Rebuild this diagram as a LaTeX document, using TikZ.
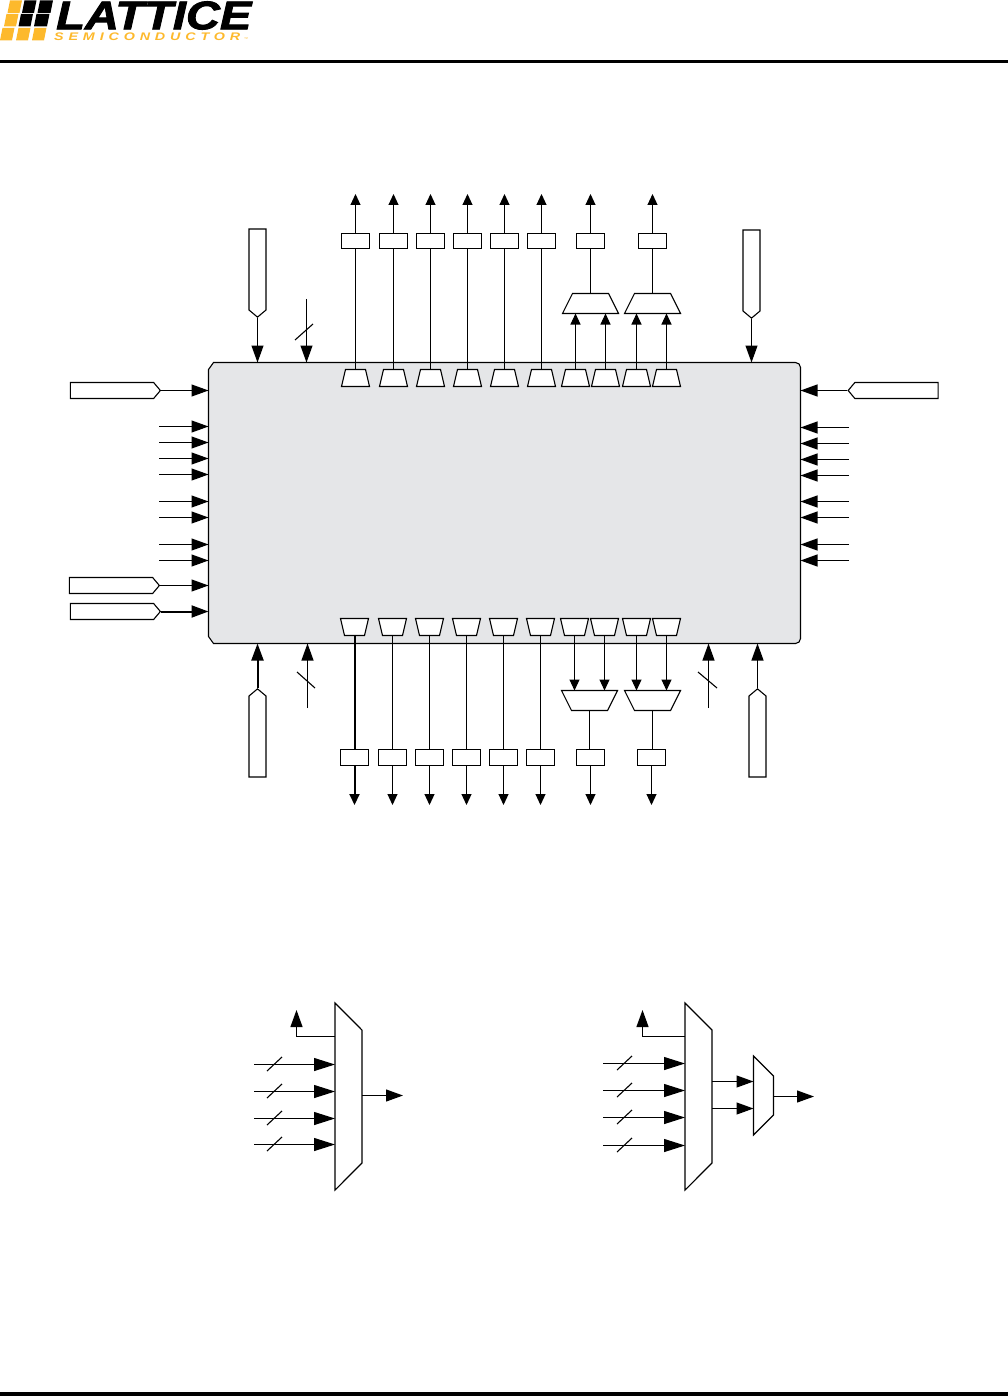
\documentclass[tikz,border=0pt]{standalone}
\usepackage{fontspec}
\usepackage{tikz}
\usetikzlibrary{arrows.meta,positioning,shapes.geometric,shapes.symbols}
\newfontfamily\logofont[FakeBold=2]{Liberation Sans}
\newfontfamily\subfont[LetterSpace=34]{Liberation Sans}
\definecolor{chipgray}{HTML}{E5E6E8}
\definecolor{logogold}{HTML}{FDB92C}
\tikzset{
  padup/.style={trapezium,draw,fill=white,line width=1.1pt,inner sep=0pt,outer sep=0pt,text width=2pt,text height=2pt,text depth=0pt,
    trapezium stretches=true,trapezium left angle=78.7,trapezium right angle=78.7,minimum width=28pt,minimum height=17pt},
  paddown/.style={padup,shape border rotate=180},
  muxup/.style={padup,trapezium left angle=74.5,trapezium right angle=74.5,minimum width=56pt,minimum height=20pt},
  muxdown/.style={muxup,shape border rotate=180},
  muxbig/.style={padup,rotate=-90,trapezium left angle=78.5,trapezium right angle=78.5,minimum width=187pt,minimum height=27pt},
  muxsmall/.style={padup,rotate=-90,trapezium left angle=62.8,trapezium right angle=62.8,minimum width=79pt,minimum height=20pt},
  reg/.style={rectangle,draw,fill=white,line width=1.1pt,inner sep=0pt,outer sep=0pt,minimum width=28pt,minimum height=15pt},
  regb/.style={reg,minimum height=16pt},
  tagh/.style={signal,signal from=nowhere,draw,fill=white,line width=1.1pt,inner sep=0pt,
    signal pointer angle=100,minimum height=16pt,minimum width=90pt},
  tagright/.style={tagh,signal to=east},
  tagleft/.style={tagh,signal to=west},
  tagdown/.style={signal,signal from=nowhere,signal to=south,draw,fill=white,line width=1.1pt,inner sep=0pt,
    signal pointer angle=100,minimum width=17pt,minimum height=81pt},
  tagup/.style={tagdown,signal to=north},
  wire/.style={line width=1.1pt},
  heavy/.style={line width=2pt},
  big/.style={wire,-{Triangle[length=17pt,width=12pt]}},
  small/.style={wire,-{Triangle[length=11pt,width=10pt]}},
  huge/.style={wire,-{Triangle[length=21pt,width=13pt]}},
}
\newcommand{\logotile}[4]{\fill[#4] (#1,#2) -- ++(#3,0) -- ++(-2.5,12.5) -- ++(-#3,0) -- cycle;}
\begin{document}
\begin{tikzpicture}[x=1pt,y=-1pt]
  \useasboundingbox (0,0) rectangle (1008,1396);

  % header and footer
  \logotile{10}{0.5}{12}{logogold}
  \logotile{24.5}{0.5}{12}{black}
  \logotile{40}{0.5}{13}{black}
  \logotile{6.5}{14}{12}{logogold}
  \logotile{21}{14}{12}{black}
  \logotile{36.5}{14}{13}{black}
  \logotile{2.5}{28}{12}{logogold}
  \logotile{18.5}{28}{12}{logogold}
  \logotile{34.5}{28}{12}{logogold}
  \node[inner sep=0pt,anchor=west] (logo) at (56,15.5)
    {\scalebox{1.176}[1]{\fontsize{40}{40}\logofont\bfseries\itshape LATTICE}};
  \node[inner sep=0pt,anchor=west,text=logogold] (logosub) at (54,37)
    {\scalebox{1.3}[1]{\fontsize{11}{11}\subfont\bfseries\itshape SEMICONDUCTOR}};
  \node[inner sep=0pt,anchor=west,text=logogold] (logotm) at (244,39.5) {\fontsize{4}{4}\subfont ™};
  \fill (0,60) rectangle (1008,63.5);
  \fill (0,1392) rectangle (1008,1396);

  % chip
  \node[minimum width=592pt,minimum height=281pt,inner sep=0pt,outer sep=0pt] (chip) at (504.5,503) {};
  \draw[wire,fill=chipgray] ([xshift=5pt]chip.north west) [rounded corners=5pt] -- (chip.north east)
    -- (chip.south east) [sharp corners] -- ([xshift=5pt]chip.south west)
    -- ([yshift=7pt]chip.south west) -- ([yshift=-7pt]chip.north west) -- cycle;

  % pads along the top
  \node[padup] (pt1) at (355.5,378) {};
  \node[padup] (pt2) at (393.5,378) {};
  \node[padup] (pt3) at (430.5,378) {};
  \node[padup] (pt4) at (467.5,378) {};
  \node[padup] (pt5) at (504.5,378) {};
  \node[padup] (pt6) at (541.5,378) {};
  \node[padup] (pt7) at (575.5,378) {};
  \node[padup] (pt8) at (605.5,378) {};
  \node[padup] (pt9) at (636.5,378) {};
  \node[padup] (pt10) at (666.5,378) {};
  \node[muxup] (mt1) at (590.5,303.5) {};
  \node[muxup] (mt2) at (652.5,303.5) {};
  \node[reg] (rt1) [above=121pt of pt1] {};
  \node[reg] (rt2) [above=121pt of pt2] {};
  \node[reg] (rt3) [above=121pt of pt3] {};
  \node[reg] (rt4) [above=121pt of pt4] {};
  \node[reg] (rt5) [above=121pt of pt5] {};
  \node[reg] (rt6) [above=121pt of pt6] {};
  \node[reg] (rt7) [above=45pt of mt1] {};
  \node[reg] (rt8) [above=45pt of mt2] {};
  \coordinate (ot1) at (355.5,194);

  % pads along the bottom
  \node[paddown] (pb1) at (354.5,627) {};
  \node[paddown] (pb2) at (392.5,627) {};
  \node[paddown] (pb3) at (429.5,627) {};
  \node[paddown] (pb4) at (466.5,627) {};
  \node[paddown] (pb5) at (503.5,627) {};
  \node[paddown] (pb6) at (540.5,627) {};
  \node[paddown] (pb7) at (574.5,627) {};
  \node[paddown] (pb8) at (604.5,627) {};
  \node[paddown] (pb9) at (636.5,627) {};
  \node[paddown] (pb10) at (666.5,627) {};
  \node[muxdown] (mb1) at (589.5,700.5) {};
  \node[muxdown] (mb2) at (652.5,700.5) {};
  \node[regb] (rb1) [below=114pt of pb1] {};
  \node[regb] (rb2) [below=114pt of pb2] {};
  \node[regb] (rb3) [below=114pt of pb3] {};
  \node[regb] (rb4) [below=114pt of pb4] {};
  \node[regb] (rb5) [below=114pt of pb5] {};
  \node[regb] (rb6) [below=114pt of pb6] {};
  \node[regb] (rb7) [below=39pt of mb1,xshift=1pt] {};
  \node[regb] (rb8) [below=39pt of mb2,xshift=-1pt] {};
  \coordinate (ob1) at (354.5,805);

  % tags
  \node[tagdown] (tt1) at (257.5,269.5) {};
  \node[tagdown] (tt2) at (751.5,270.5) {};
  \node[tagright] (tl1) at (112,390.5) {};
  \node[tagright] (tl2) at (111,585.5) {};
  \node[tagright] (tl3) at (112,611.5) {};
  \node[tagleft] (tr1) at (896.5,390.5) {};
  \node[tagup] (tb1) at (257.5,736.5) {};
  \node[tagup] (tb2) at (757.5,736.5) {};

  % side inputs
  \coordinate (il1) at (159,426.5);
  \coordinate (il2) at (159,442.5);
  \coordinate (il3) at (159,458.5);
  \coordinate (il4) at (159,474.5);
  \coordinate (il5) at (159,501.5);
  \coordinate (il6) at (159,517.5);
  \coordinate (il7) at (159,544.5);
  \coordinate (il8) at (159,560.5);
  \coordinate (ir1) at (849,427.5);
  \coordinate (ir2) at (849,443.5);
  \coordinate (ir3) at (849,459.5);
  \coordinate (ir4) at (849,475.5);
  \coordinate (ir5) at (849,501.5);
  \coordinate (ir6) at (849,517.5);
  \coordinate (ir7) at (849,544.5);
  \coordinate (ir8) at (849,560.5);

  % busses
  \coordinate (bt) at (306.5,299);
  \coordinate (bl) at (307.5,708);
  \coordinate (br) at (708.5,708);

  \draw[big] (tt1.south) -- (tt1.south |- chip.north);
  \draw[big] (tt2.south) -- (tt2.south |- chip.north);
  \draw[big] (bt) -- (bt |- chip.north);
  \draw[big] (bl) -- (bl |- chip.south);
  \draw[big] (br) -- (br |- chip.south);
  \draw[big] (tb2.north) -- (tb2.north |- chip.south);
  \draw[big,heavy] (tb1.north) -- (tb1.north |- chip.south);
  \draw[wire] (295,340) -- (313,324);
  \draw[wire] (297,672) -- (315,688);
  \draw[wire] (698,672) -- (717,688);

  \draw[big] (tl1.east) -- (tl1.east -| chip.west);
  \draw[big] (tl2.east) -- (tl2.east -| chip.west);
  \draw[big,heavy] (tl3.east) -- (tl3.east -| chip.west);
  \draw[big] (tr1.west) -- (tr1.west -| chip.east);
  \draw[big] (il1) -- (il1 -| chip.west);
  \draw[big] (il2) -- (il2 -| chip.west);
  \draw[big] (il3) -- (il3 -| chip.west);
  \draw[big] (il4) -- (il4 -| chip.west);
  \draw[big] (il5) -- (il5 -| chip.west);
  \draw[big] (il6) -- (il6 -| chip.west);
  \draw[big] (il7) -- (il7 -| chip.west);
  \draw[big] (il8) -- (il8 -| chip.west);
  \draw[big] (ir1) -- (ir1 -| chip.east);
  \draw[big] (ir2) -- (ir2 -| chip.east);
  \draw[big] (ir3) -- (ir3 -| chip.east);
  \draw[big] (ir4) -- (ir4 -| chip.east);
  \draw[big] (ir5) -- (ir5 -| chip.east);
  \draw[big] (ir6) -- (ir6 -| chip.east);
  \draw[big] (ir7) -- (ir7 -| chip.east);
  \draw[big] (ir8) -- (ir8 -| chip.east);

  % top wires
  \path[wire]
    (pt1.north) edge (rt1.south)
    (pt2.north) edge (rt2.south)
    (pt3.north) edge (rt3.south)
    (pt4.north) edge (rt4.south)
    (pt5.north) edge (rt5.south)
    (pt6.north) edge (rt6.south)
    (mt1.north) edge (rt7.south)
    (mt2.north) edge (rt8.south);
  \path[small]
    (rt1.north) edge (rt1.north |- ot1)
    (rt2.north) edge (rt2.north |- ot1)
    (rt3.north) edge (rt3.north |- ot1)
    (rt4.north) edge (rt4.north |- ot1)
    (rt5.north) edge (rt5.north |- ot1)
    (rt6.north) edge (rt6.north |- ot1)
    (rt7.north) edge (rt7.north |- ot1)
    (rt8.north) edge (rt8.north |- ot1)
    (pt7.north) edge (pt7.north |- mt1.south)
    (pt8.north) edge (pt8.north |- mt1.south)
    (pt9.north) edge (pt9.north |- mt2.south)
    (pt10.north) edge (pt10.north |- mt2.south);

  % bottom wires
  \draw[heavy] (pb1.south) -- (rb1.north);
  \path[wire]
    (pb2.south) edge (rb2.north)
    (pb3.south) edge (rb3.north)
    (pb4.south) edge (rb4.north)
    (pb5.south) edge (rb5.north)
    (pb6.south) edge (rb6.north)
    (mb1.south) edge (mb1.south |- rb7.north)
    (mb2.south) edge (mb2.south |- rb8.north);
  \draw[small,heavy] (rb1.south) -- (rb1.south |- ob1);
  \path[small]
    (rb2.south) edge (rb2.south |- ob1)
    (rb3.south) edge (rb3.south |- ob1)
    (rb4.south) edge (rb4.south |- ob1)
    (rb5.south) edge (rb5.south |- ob1)
    (rb6.south) edge (rb6.south |- ob1)
    (rb7.south) edge (rb7.south |- ob1)
    (rb8.south) edge (rb8.south |- ob1)
    (pb7.south) edge (pb7.south |- mb1.north)
    (pb8.south) edge (pb8.south |- mb1.north)
    (pb9.south) edge (pb9.south |- mb2.north)
    (pb10.south) edge (pb10.south |- mb2.north);

  % first read mux
  \node[muxbig] (ma) at (348.5,1096.5) {};
  \coordinate (ia1) at (254,1064.5);
  \coordinate (ia2) at (254,1091.5);
  \coordinate (ia3) at (254,1118.5);
  \coordinate (ia4) at (254,1144.5);
  \coordinate (sa) at (296.5,1010);
  \coordinate (oa) at (403,1095.5);
  \draw[huge] (ia1) -- (ia1 -| ma.south);
  \draw[huge] (ia2) -- (ia2 -| ma.south);
  \draw[huge] (ia3) -- (ia3 -| ma.south);
  \draw[huge] (ia4) -- (ia4 -| ma.south);
  \draw[wire] (267,1071) -- (282,1057);
  \draw[wire] (267,1098) -- (282,1084);
  \draw[wire] (267,1125) -- (282,1111);
  \draw[wire] (267,1151) -- (282,1137);
  \draw[big] (ma.south |- 0,1036.5) -| (sa);
  \draw[big] (oa -| ma.north) -- (oa);

  % second read mux
  \node[muxbig] (mc) at (698.5,1096.5) {};
  \node[muxsmall] (md) at (763.5,1095.5) {};
  \coordinate (ic1) at (603,1063.5);
  \coordinate (ic2) at (603,1090.5);
  \coordinate (ic3) at (603,1117.5);
  \coordinate (ic4) at (603,1145.5);
  \coordinate (sc) at (642.5,1010);
  \coordinate (xc1) at (712,1081.5);
  \coordinate (xc2) at (712,1108.5);
  \coordinate (oc) at (814,1096.5);
  \draw[huge] (ic1) -- (ic1 -| mc.south);
  \draw[huge] (ic2) -- (ic2 -| mc.south);
  \draw[huge] (ic3) -- (ic3 -| mc.south);
  \draw[huge] (ic4) -- (ic4 -| mc.south);
  \draw[wire] (617,1070) -- (632,1056);
  \draw[wire] (617,1097) -- (632,1083);
  \draw[wire] (617,1124) -- (632,1110);
  \draw[wire] (617,1152) -- (632,1138);
  \draw[big] (mc.south |- 0,1036.5) -| (sc);
  \draw[big] (xc1) -- (xc1 -| md.south);
  \draw[big] (xc2) -- (xc2 -| md.south);
  \draw[big] (oc -| md.north) -- (oc);
\end{tikzpicture}
\end{document}
